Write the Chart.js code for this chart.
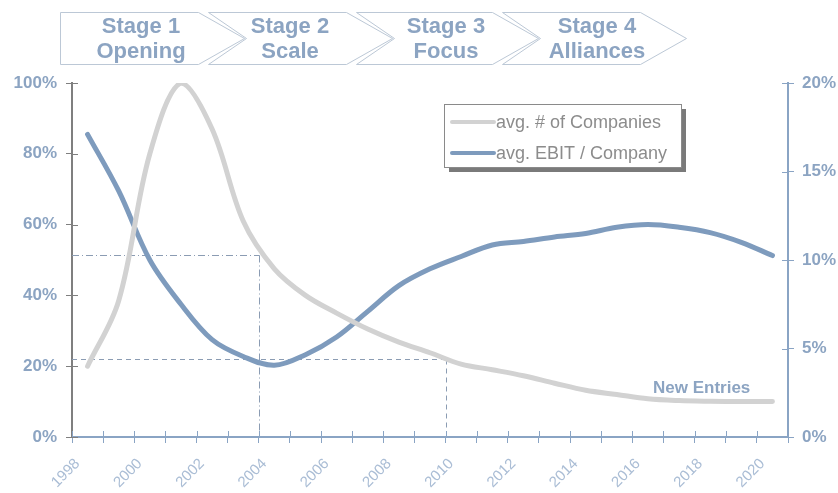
<!DOCTYPE html>
<html>
<head>
<meta charset="utf-8">
<script src="https://cdn.jsdelivr.net/npm/chart.js@4"></script>
<style>
  html, body { margin: 0; padding: 0; background: #fff; }
  #wrap { width: 838px; height: 493px; position: relative; }
</style>
</head>
<body>
<div id="wrap"><canvas id="c"></canvas></div>
<script>
/* ── Data ─────────────────────────────────────────────────────────── */
const years = ['1998', '1999', '2000', '2001', '2002', '2003', '2004', '2005', '2006', '2007', '2008',
               '2009', '2010', '2011', '2012', '2013', '2014', '2015', '2016', '2017', '2018', '2019', '2020'];
// avg. # of Companies, left axis (% of peak)
const companies = [20, 38.5, 80, 100, 87, 61, 47.5, 40, 35, 30.5, 26.8,
                   23.8, 20.6, 19, 17.3, 15.2, 13.2, 12, 10.8, 10.3, 10.1, 10, 10];
// avg. EBIT / Company, right axis (%)
const ebit = [17.1, 13.9, 10.0, 7.5, 5.5, 4.55, 4.05, 4.65, 5.65, 7.1, 8.55,
              9.5, 10.2, 10.85, 11.05, 11.3, 11.5, 11.85, 12.0, 11.85, 11.55, 11.0, 10.25];
const leftTicks  = [0, 20, 40, 60, 80, 100];
const rightTicks = [0, 5, 10, 15, 20];
const stageTitles = ['Stage 1', 'Stage 2', 'Stage 3', 'Stage 4'];
const stageNames  = ['Opening', 'Scale', 'Focus', 'Alliances'];
// guide lines: year boundary and level on the left axis
const guideYears  = ['2004', '2010'];
const guideLevels = [51.5, 21.9];
const noteText = 'New Entries';

/* ── Colours / fonts ──────────────────────────────────────────────── */
const FONT   = "'Liberation Sans', Arial, sans-serif";
const BLUE   = '#7e9bbd';
const GREY   = '#d2d2d2';
const LABEL  = '#8ca4c2';
const XLABEL = '#aabdd5';
const AXBLUE = '#8aa4c4';
const AXGREY = '#7f7f7f';

/* ── Plugins ──────────────────────────────────────────────────────── */
const whiteBg = {
    id: 'whiteBg',
    beforeDraw(chart) {
        const c = chart.ctx;
        c.save();
        c.fillStyle = '#fff';
        c.fillRect(0, 0, chart.width, chart.height);
        c.restore();
    },
};

// boundary pixel left of a category
function boundaryX(x, label) {
    const i = years.indexOf(label);
    const half = (x.getPixelForValue(1) - x.getPixelForValue(0)) / 2;
    return x.getPixelForValue(i) - half;
}

const guides = {
    id: 'guides',
    beforeDatasetsDraw(chart) {
        const { ctx: c, scales: { x, y } } = chart;
        const dashes = [[7, 3, 1, 3], [5, 4]];
        c.save();
        c.strokeStyle = '#8b9cb3';
        c.lineWidth = 1;
        guideYears.forEach((yr, k) => {
            const px = Math.round(boundaryX(x, yr)) + 0.5;
            const py = Math.round(y.getPixelForValue(guideLevels[k])) + 0.5;
            c.setLineDash(dashes[k]);
            c.beginPath();
            c.moveTo(x.left, py);
            c.lineTo(px, py);
            c.moveTo(px, py);
            c.lineTo(px, y.bottom);
            c.stroke();
        });
        c.restore();
    },
};

// short tick stubs on the inner side of each axis
const innerTicks = {
    id: 'innerTicks',
    afterDraw(chart) {
        const { ctx: c, scales: { x, y, y2 } } = chart;
        c.save();
        c.lineWidth = 1;
        c.strokeStyle = AXGREY;
        c.beginPath();
        y.ticks.forEach(t => {
            const py = Math.round(y.getPixelForValue(t.value)) + 0.5;
            c.moveTo(y.right, py); c.lineTo(y.right + 6, py);
        });
        c.stroke();
        c.strokeStyle = AXBLUE;
        c.beginPath();
        years.forEach(yr => {
            const px = Math.round(boundaryX(x, yr)) + 0.5;
            c.moveTo(px, x.top); c.lineTo(px, x.top - 6);
        });
        y2.ticks.forEach(t => {
            const py = Math.round(y2.getPixelForValue(t.value)) + 0.5;
            c.moveTo(y2.left, py); c.lineTo(y2.left - 6, py);
        });
        c.stroke();
        c.restore();
    },
};

const stages = {
    id: 'stages',
    afterDraw(chart) {
        const c = chart.ctx;
        const top = 12, bot = 64, mid = 38, d = 46;
        const lefts = [60, 208, 356, 502];
        const rights = [198, 346, 492, 640];
        const centers = [141, 290, 446, 597];
        c.save();
        c.lineWidth = 1;
        c.strokeStyle = '#bcc8d6';
        c.fillStyle = '#fff';
        lefts.forEach((L, k) => {
            const R = rights[k];
            c.beginPath();
            c.moveTo(L + 0.5, top + 0.5);
            c.lineTo(R + 0.5, top + 0.5);
            c.lineTo(R + d + 0.5, mid + 0.5);
            c.lineTo(R + 0.5, bot + 0.5);
            c.lineTo(L + 0.5, bot + 0.5);
            if (k > 0) c.lineTo(L + d - 8 + 0.5, mid + 0.5);
            c.closePath();
            c.fill();
            c.stroke();
        });
        c.fillStyle = LABEL;
        c.textAlign = 'center';
        c.textBaseline = 'alphabetic';
        c.font = `bold 22px ${FONT}`;
        centers.forEach((cx, k) => {
            c.fillText(stageTitles[k], cx, 33);
            c.fillText(stageNames[k], cx, 58);
        });
        c.restore();
    },
};

const boxLegend = {
    id: 'boxLegend',
    afterDraw(chart) {
        const c = chart.ctx;
        const bx = 444, by = 104, bw = 237, bh = 63;
        c.save();
        c.fillStyle = '#7a7a7a';
        c.fillRect(bx + 5, by + 5, bw, bh);
        c.fillStyle = '#fff';
        c.fillRect(bx, by, bw, bh);
        c.strokeStyle = '#8a8a8a';
        c.lineWidth = 1;
        c.strokeRect(bx + 0.5, by + 0.5, bw, bh);
        c.font = `18px ${FONT}`;
        c.textBaseline = 'middle';
        c.textAlign = 'left';
        chart.data.datasets.forEach((ds, k) => {
            const ly = by + 18 + k * 31;
            c.strokeStyle = ds.borderColor;
            c.lineWidth = 4;
            c.lineCap = 'round';
            c.beginPath();
            c.moveTo(bx + 8, ly);
            c.lineTo(bx + 50, ly);
            c.stroke();
            c.fillStyle = '#8c8c8c';
            c.fillText(ds.label, bx + 52, ly + 1);
        });
        c.font = `bold 17px ${FONT}`;
        c.fillStyle = LABEL;
        c.textBaseline = 'alphabetic';
        c.fillText(noteText, 653, 393);
        c.restore();
    },
};

/* ── Chart ────────────────────────────────────────────────────────── */
new Chart(document.getElementById('c'), {
    type: 'line',
    data: {
        labels: years,
        datasets: [
            {
                label: 'avg. # of Companies',
                data: companies,
                yAxisID: 'y',
                borderColor: GREY,
                borderWidth: 5,
                pointRadius: 0,
                tension: 0.35,
                borderCapStyle: 'round',
            },
            {
                label: 'avg. EBIT / Company',
                data: ebit,
                yAxisID: 'y2',
                borderColor: BLUE,
                borderWidth: 5,
                pointRadius: 0,
                tension: 0.35,
                borderCapStyle: 'round',
            },
        ],
    },
    options: {
        responsive: true,
        maintainAspectRatio: false,
        animation: false,
        layout: { padding: { top: 83, left: 0, right: 0, bottom: 0 } },
        plugins: {
            legend: { display: false },
            tooltip: { enabled: false },
        },
        scales: {
            x: {
                type: 'category',
                offset: true,
                afterFit: s => { s.height = 56; },
                grid: { offset: true, drawOnChartArea: false, drawTicks: true, tickLength: 6, color: AXBLUE },
                border: { display: true, color: AXBLUE, width: 2 },
                ticks: {
                    autoSkip: false,
                    minRotation: 45,
                    maxRotation: 45,
                    padding: 12,
                    labelOffset: -10,
                    color: XLABEL,
                    font: { family: FONT, size: 15 },
                    callback: (v, i) => (i % 2 === 0 ? years[i] : ''),
                },
            },
            y: {
                position: 'left',
                min: 0, max: 100,
                afterFit: s => { s.width = 72; },
                afterBuildTicks: s => { s.ticks = leftTicks.map(v => ({ value: v })); },
                grid: { drawOnChartArea: false, drawTicks: true, tickLength: 6, color: AXGREY },
                border: { display: true, color: AXGREY, width: 2 },
                ticks: {
                    padding: 9,
                    color: LABEL,
                    font: { family: FONT, size: 17, weight: 'bold' },
                    callback: v => v + '%',
                },
            },
            y2: {
                position: 'right',
                min: 0, max: 20,
                afterFit: s => { s.width = 50; },
                afterBuildTicks: s => { s.ticks = rightTicks.map(v => ({ value: v })); },
                grid: { drawOnChartArea: false, drawTicks: true, tickLength: 6, color: AXBLUE },
                border: { display: true, color: AXBLUE, width: 2 },
                ticks: {
                    padding: 8,
                    color: LABEL,
                    font: { family: FONT, size: 17, weight: 'bold' },
                    callback: v => v + '%',
                },
            },
        },
    },
    plugins: [whiteBg, guides, innerTicks, stages, boxLegend],
});
</script>
</body>
</html>
